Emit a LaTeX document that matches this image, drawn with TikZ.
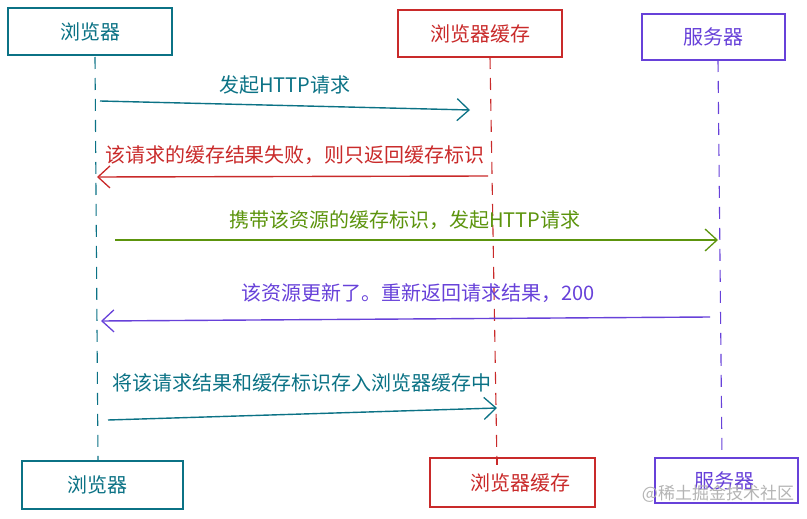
\documentclass[tikz,border=0pt]{standalone}
\usepackage{fontspec}
\setmainfont{Noto Sans CJK SC}
\usetikzlibrary{arrows.meta}
\definecolor{tealc}{HTML}{0B7285}
\definecolor{redc}{HTML}{C92A2A}
\definecolor{greenc}{HTML}{5C940D}
\definecolor{purplec}{HTML}{6741D9}
\definecolor{markc}{HTML}{B4B4B4}

\begin{document}
\begin{tikzpicture}[x=1pt,y=-1pt,
    actor/.style={draw=#1,text=#1,line width=1.2pt,fill=white,
      font=\fontsize{20}{22}\selectfont,inner sep=0pt},
    lifeline/.style={draw=#1,line width=1.1pt,dash pattern=on 12pt off 9pt},
    msg/.style={draw=#1,line width=1.4pt,
      -{Straight Barb[length=12pt,width=22pt,line width=1.3pt]}},
    msgtext/.style={text=#1,font=\fontsize{20}{22}\selectfont,inner sep=0pt}]
      \useasboundingbox (0,0) rectangle (807,519);
      % Draw lifelines
      \coordinate (brU) at (95,57);   \coordinate (brD) at (98,461);
      \coordinate (caU) at (490,57);  \coordinate (caD) at (497,465);
      \coordinate (svU) at (718,60);  \coordinate (svD) at (722,458);
      \draw [lifeline=tealc] (brU) -- (brD);
      \draw [lifeline=redc] (caU) -- (caD);
      \draw [lifeline=purplec] (svU) -- (svD);
      % Draw the participants, top
      \node [actor=tealc,minimum width=164pt,minimum height=47pt] (brTop) at (90,31.5) {浏览器};
      \node [actor=redc,minimum width=164pt,minimum height=47pt] (caTop) at (480,33.5) {浏览器缓存};
      \node [actor=purplec,minimum width=143pt,minimum height=46pt] (svTop) at (713.5,37) {服务器};
      % Draw the participants, bottom
      \node [actor=tealc,minimum width=161pt,minimum height=48pt] (brBot) at (102.5,485) {\hspace*{-10pt}浏览器};
      \node [actor=redc,minimum width=165pt,minimum height=49pt] (caBot) at (512.5,482.5) {\hspace*{16pt}浏览器缓存};
      \node [actor=purplec,minimum width=143pt,minimum height=45pt] (svBot) at (726.5,480.5) {\hspace*{-5pt}服务器};
      \draw [lifeline=redc] (497,458) -- (caD);
      % Draw the messages
      \coordinate (m1a) at (100,101);  \coordinate (m1b) at (470,110);
      \draw [msg=tealc] (m1a) -- (m1b);
      \node [msgtext=tealc] (t1) at (285,85) {发起HTTP请求};
      \coordinate (m2a) at (488,176);  \coordinate (m2b) at (97,177);
      \draw [msg=redc] (m2a) -- (m2b);
      \node [msgtext=redc] (t2) at (295,155) {该请求的缓存结果失败，则只返回缓存标识};
      \coordinate (m3a) at (115,240);  \coordinate (m3b) at (718,240);
      \draw [msg=greenc] (m3a) -- (m3b);
      \node [msgtext=greenc] (t3) at (405,220) {携带该资源的缓存标识，发起HTTP请求};
      \coordinate (m4a) at (710,317);  \coordinate (m4b) at (101,321);
      \draw [msg=purplec] (m4a) -- (m4b);
      \node [msgtext=purplec] (t4) at (418,293) {该资源更新了。重新返回请求结果，200};
      \coordinate (m5a) at (108,420);  \coordinate (m5b) at (497,408);
      \draw [msg=tealc] (m5a) -- (m5b);
      \node [msgtext=tealc] (t5) at (302,383) {将该请求结果和缓存标识存入浏览器缓存中};
      % Draw the watermark
      \node [text=markc,font=\fontsize{17}{20}\selectfont,inner sep=0pt] (mark) at (718,494) {@稀土掘金技术社区};
    \end{tikzpicture}
\end{document}
